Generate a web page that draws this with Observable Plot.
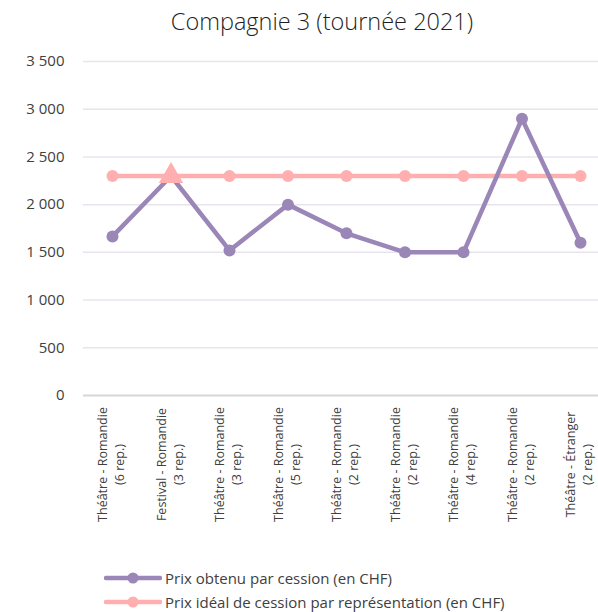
<!DOCTYPE html>
<html><head><meta charset="utf-8">
<script src="https://cdn.jsdelivr.net/npm/d3@7"></script>
<script src="https://cdn.jsdelivr.net/npm/@observablehq/plot@0.6"></script>
<style>
body{margin:0;background:#fff;font-family:"Open Sans",sans-serif;color:#404040;overflow:hidden}
#title{position:absolute;top:5px;left:46px;width:552px;text-align:center;font-size:23.5px;font-weight:300;color:#1f1f1f}
#chart{position:absolute;top:40px;left:0}
#legend{position:absolute;top:566px;left:104px;font-size:15px;font-weight:400;color:#404040}
.row{display:flex;align-items:center;height:24px;white-space:nowrap}
.row svg{margin-right:3px}
</style></head>
<body>
<div id="title">Compagnie 3 (tournée 2021)</div>
<div id="chart"></div>
<div id="legend"></div>
<script>
const categories = ["Théâtre - Romandie\n(6 rep.)","Festival - Romandie\n(3 rep.)","Théâtre - Romandie\n(3 rep.)","Théâtre - Romandie\n(5 rep.)","Théâtre - Romandie\n(2 rep.)","Théâtre - Romandie\n(2 rep.)","Théâtre - Romandie\n(4 rep.)","Théâtre - Romandie\n(2 rep.)","Théâtre - Étranger\n(2 rep.)"];
const prixObtenu = [1667, 2300, 1520, 2000, 1700, 1500, 1500, 2900, 1600];
const prixIdeal = [2300, 2300, 2300, 2300, 2300, 2300, 2300, 2300, 2300];
const idealSymbols = ["circle","triangle","circle","circle","circle","circle","circle","circle","circle"];
const seriesNames = ["Prix obtenu par cession (en CHF)", "Prix idéal de cession par représentation (en CHF)"];
const seriesColors = ["#9b86b8", "#ffafaf"];
const yTicks = [0, 500, 1000, 1500, 2000, 2500, 3000, 3500];

const idx = categories.map((c,i)=>i);
const obt = categories.map((c,i)=>({i, v:prixObtenu[i]}));
const ide = categories.map((c,i)=>({i, v:prixIdeal[i], s:idealSymbols[i]}));
const fmt = d3.formatLocale({thousands:"\u00a0", grouping:[3], decimal:",", currency:["",""]}).format(",");

const plot = Plot.plot({
  width: 598, height: 520,
  marginLeft: 83, marginRight: 0, marginTop: 21, marginBottom: 165,
  style: {fontFamily: '"Open Sans", sans-serif', color: "#404040", background: "#fff"},
  x: {type: "point", domain: idx, range: [112, 580], padding: 0, round: false, axis: null},
  y: {domain: [0, 3500], axis: null},
  marks: [
    Plot.ruleY(yTicks.filter(d=>d>0), {stroke: "#e8e4ee", strokeWidth: 1.5}),
    Plot.ruleY([0], {stroke: "#d6d6d6", strokeWidth: 2}),
    Plot.axisY({ticks: yTicks, label: null, tickSize: 0, tickPadding: 19, tickFormat: fmt, fontSize: 15, fill: "#404040"}),
    Plot.text(idx, {x: d=>d, text: d=>categories[d], frameAnchor: "bottom", rotate: -90, textAnchor: "middle", lineAnchor: "middle", lineHeight: 1.35, dx: -2, dy: 69, fontSize: 12.5, fill: "#404040"}),
    Plot.line(ide, {x: "i", y: "v", stroke: seriesColors[1], strokeWidth: 4.5}),
    Plot.line(obt, {x: "i", y: "v", stroke: seriesColors[0], strokeWidth: 4.5}),
    Plot.dot(obt, {x: "i", y: "v", r: 6, fill: seriesColors[0]}),
    Plot.dot(ide.filter(d=>d.s==="circle"), {x: "i", y: "v", r: 6, fill: seriesColors[1]}),
    Plot.dot(ide.filter(d=>d.s==="triangle"), {x: "i", y: "v", r: 9, symbol: "triangle", fill: seriesColors[1]})
  ]
});
document.getElementById("chart").append(plot);

const leg = document.getElementById("legend");
seriesNames.forEach((n,i)=>{
  const row = document.createElement("div"); row.className = "row";
  row.innerHTML = `<svg width="58" height="14"><line x1="2" x2="56" y1="7" y2="7" stroke="${seriesColors[i]}" stroke-width="4.5" stroke-linecap="round"/><circle cx="29" cy="7" r="5.5" fill="${seriesColors[i]}"/></svg><span>${n}</span>`;
  leg.append(row);
});
</script>
</body></html>
